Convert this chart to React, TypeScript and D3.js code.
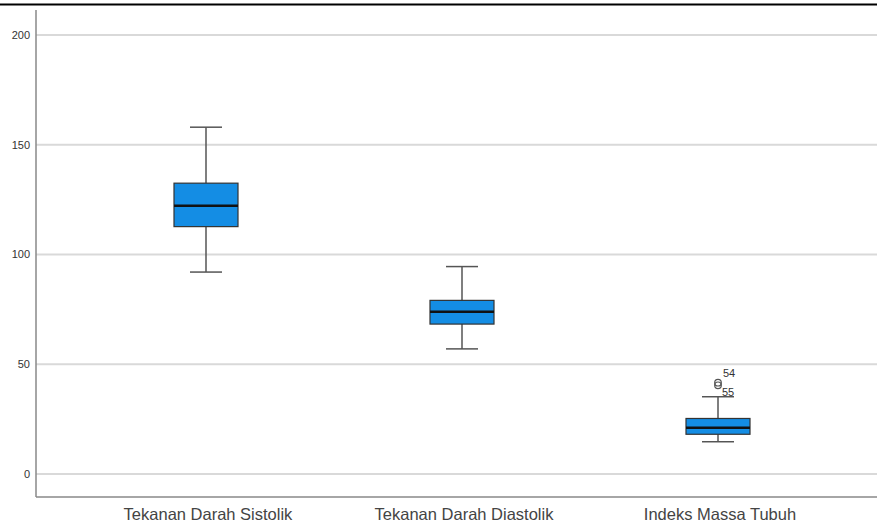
import React from "react";
import * as d3 from "d3";

const categories = ["Tekanan Darah Sistolik", "Tekanan Darah Diastolik", "Indeks Massa Tubuh"];
const whiskerLow = [92, 57, 14.7];
const q1 = [112.7, 68.3, 18.1];
const median = [122.2, 73.9, 21.1];
const q3 = [132.5, 79.1, 25.3];
const whiskerHigh = [158, 94.5, 35.2];
const outlierCategory = ["Indeks Massa Tubuh", "Indeks Massa Tubuh"];
const outlierValues = [41.6, 40.4];
const outlierLabels = ["54", "55"];
const yTicks = [0, 50, 100, 150, 200];

export default function App() {
  const W = 877, H = 523;
  const axisX = 36, axisBottom = 497, axisTop = 10;
  const y = d3.scaleLinear().domain([0, 200]).range([474, 35]);
  const x = d3.scalePoint<string>().domain(categories).range([206, 718]);
  const boxW = 64, capW = 32;
  const blue = "#148de4";
  const font = "'Liberation Sans', Arial, sans-serif";

  return (
    <svg width={W} height={H} style={{ position: "absolute", left: 0, top: 0, background: "#fff" }} fontFamily={font}>
      <line x1={0} x2={W} y1={4.5} y2={4.5} stroke="#000" strokeWidth={2} />
      {yTicks.map((t) => (
        <g key={t}>
          <line x1={axisX} x2={W} y1={y(t)} y2={y(t)} stroke="#d9d9d9" strokeWidth={2} />
          <text x={30} y={y(t)} dy="0.35em" textAnchor="end" fontSize={11} fill="#333">{t}</text>
        </g>
      ))}
      <line x1={axisX} x2={axisX} y1={axisTop} y2={axisBottom} stroke="#888" strokeWidth={1.5} />
      <line x1={axisX} x2={W} y1={axisBottom} y2={axisBottom} stroke="#888" strokeWidth={1.5} />
      {categories.map((c, i) => {
        const cx = x(c)!;
        return (
          <g key={c}>
            <line x1={cx} x2={cx} y1={y(whiskerHigh[i])} y2={y(q3[i])} stroke="#555" strokeWidth={1.5} />
            <line x1={cx} x2={cx} y1={y(q1[i])} y2={y(whiskerLow[i])} stroke="#555" strokeWidth={1.5} />
            <line x1={cx - capW / 2} x2={cx + capW / 2} y1={y(whiskerHigh[i])} y2={y(whiskerHigh[i])} stroke="#555" strokeWidth={1.5} />
            <line x1={cx - capW / 2} x2={cx + capW / 2} y1={y(whiskerLow[i])} y2={y(whiskerLow[i])} stroke="#555" strokeWidth={1.5} />
            <rect x={cx - boxW / 2} y={y(q3[i])} width={boxW} height={y(q1[i]) - y(q3[i])} fill={blue} stroke="#333" strokeWidth={1.2} />
            <line x1={cx - boxW / 2} x2={cx + boxW / 2} y1={y(median[i])} y2={y(median[i])} stroke="#111" strokeWidth={2.5} />
            <text x={cx + 2} y={520} textAnchor="middle" fontSize={16.5} fill="#444">{c}</text>
          </g>
        );
      })}
      {outlierValues.map((v, i) => {
        const cx = x(outlierCategory[i])!;
        return (
          <g key={i}>
            <circle cx={cx} cy={y(v)} r={3.3} fill="none" stroke="#555" strokeWidth={1.2} />
          </g>
        );
      })}
      <text x={x(outlierCategory[0])! + 5} y={y(outlierValues[0]) - 6} fontSize={11} fill="#333">{outlierLabels[0]}</text>
      <text x={x(outlierCategory[1])! + 4} y={y(outlierValues[1]) + 11} fontSize={11} fill="#333">{outlierLabels[1]}</text>
    </svg>
  );
}
